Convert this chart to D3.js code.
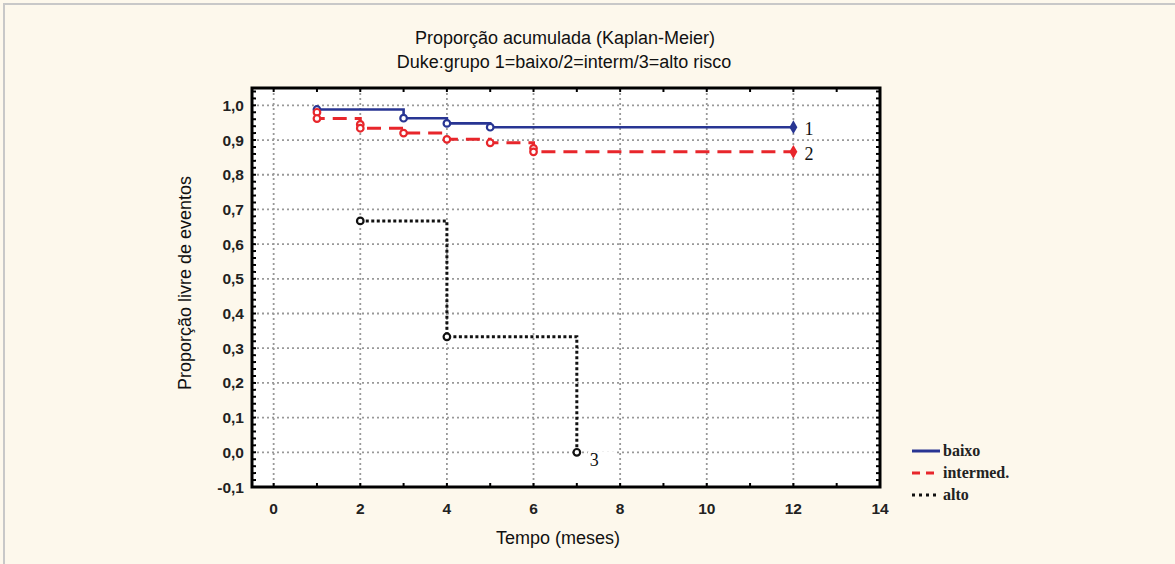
<!DOCTYPE html>
<html>
<head>
<meta charset="utf-8">
<script src="https://cdn.jsdelivr.net/npm/d3@7"></script>
<style>
  html, body { margin: 0; padding: 0; background: #fdf8ec; }
  svg { display: block; }
</style>
</head>
<body>
<script>
// Kaplan-Meier curves
const grupos = ['1', '2', '3'];
const legenda = ['baixo', 'intermed.', 'alto'];
const tempo1 = [1, 3, 4, 5, 12];
const prop1 = [0.988, 0.963, 0.948, 0.937, 0.937];
const tempo2 = [1, 1, 2, 2, 3, 4, 5, 6, 6, 12];
const prop2 = [0.98, 0.962, 0.945, 0.934, 0.92, 0.902, 0.892, 0.876, 0.866, 0.866];
const tempo3 = [2, 4, 7];
const prop3 = [0.667, 0.333, 0.0];
const xTicks = [0, 2, 4, 6, 8, 10, 12, 14];
const yTicks = [-0.1, 0, 0.1, 0.2, 0.3, 0.4, 0.5, 0.6, 0.7, 0.8, 0.9, 1.0];

const W = 1175, H = 564;
const svg = d3.select('body').append('svg').attr('width', W).attr('height', H);

// outer panel
svg.append('rect').attr('x', 4).attr('y', 4).attr('width', W).attr('height', H)
  .attr('fill', '#fdf8ec').attr('stroke', '#c8c8c8').attr('stroke-width', 2);

const L = 252, R = 880, T = 88, B = 487;
const x = d3.scaleLinear().domain([-0.5, 14]).range([L, R]);
const y = d3.scaleLinear().domain([-0.1, 1.05]).range([B, T]);

svg.append('rect').attr('x', L).attr('y', T).attr('width', R - L).attr('height', B - T)
  .attr('fill', '#fff');

// grid
const grid = svg.append('g').attr('stroke', '#999').attr('stroke-width', 1.8)
  .attr('stroke-dasharray', '2,3');
grid.selectAll('.gy').data(yTicks.filter(d => d > -0.1)).enter().append('line')
  .attr('x1', L).attr('x2', R).attr('y1', d => y(d)).attr('y2', d => y(d));
grid.selectAll('.gx').data(xTicks.filter(d => d < 14)).enter().append('line')
  .attr('y1', T).attr('y2', B).attr('x1', d => x(d)).attr('x2', d => x(d));

// series
const series = [
  { t: tempo1, p: prop1, color: '#283593', dash: null, w: 2.6 },
  { t: tempo2, p: prop2, color: '#e8262b', dash: '14,8', w: 3 },
  { t: tempo3, p: prop3, color: '#111', dash: '3,2.5', w: 3 }
];
const line = d3.line().x(d => x(d[0])).y(d => y(d[1])).curve(d3.curveStepAfter);

series.forEach((s, i) => {
  const pts = s.t.map((t, j) => [t, s.p[j]]);
  svg.append('path').datum(pts).attr('d', line)
    .attr('fill', 'none').attr('stroke', s.color).attr('stroke-width', s.w)
    .attr('stroke-dasharray', s.dash);
  const open = i === 2 ? pts : pts.slice(0, -1);
  svg.append('g').selectAll('circle').data(open).enter().append('circle')
    .attr('cx', d => x(d[0])).attr('cy', d => y(d[1])).attr('r', 3.3)
    .attr('fill', '#fff').attr('stroke', s.color).attr('stroke-width', 2.2);
  const last = pts[pts.length - 1];
  if (i < 2) {
    svg.append('path').attr('d', d3.symbol(d3.symbolDiamond, 55)())
      .attr('transform', `translate(${x(last[0])},${y(last[1])})`)
      .attr('fill', s.color);
  }
  const lx = x(last[0]) + (i === 2 ? 13 : 11);
  const ly = y(last[1]) + (i === 2 ? 14 : 8);
  svg.append('rect').attr('x', lx - 2).attr('y', ly - 15).attr('width', i === 2 ? 28 : 14)
    .attr('height', i === 2 ? 22 : 16).attr('fill', '#fff');
  svg.append('text').attr('x', lx).attr('y', ly).text(grupos[i])
    .attr('font-family', 'Liberation Serif').attr('font-size', 18).attr('fill', '#111');
});

// frame and ticks
svg.append('rect').attr('x', L).attr('y', T).attr('width', R - L).attr('height', B - T)
  .attr('fill', 'none').attr('stroke', '#000').attr('stroke-width', 3);

const tk = svg.append('g').attr('stroke', '#000').attr('stroke-width', 2);
const xMinor = d3.range(0, 14, 1);
tk.selectAll('.tb').data(xMinor).enter().append('line')
  .attr('x1', d => x(d)).attr('x2', d => x(d)).attr('y1', B).attr('y2', B - 4);
tk.selectAll('.tt').data(xMinor).enter().append('line')
  .attr('x1', d => x(d)).attr('x2', d => x(d)).attr('y1', T).attr('y2', T + 4);
const yMinor = d3.range(-0.08, 1.05, 0.02);
tk.selectAll('.tl').data(yMinor).enter().append('line')
  .attr('x1', L).attr('x2', L + 4).attr('y1', d => y(d)).attr('y2', d => y(d));
tk.selectAll('.tr').data(yMinor).enter().append('line')
  .attr('x1', R).attr('x2', R - 4).attr('y1', d => y(d)).attr('y2', d => y(d));

const fmt = d => d3.format('.1f')(d).replace('.', ',').replace('−', '-');
const lab = svg.append('g').attr('font-family', 'Liberation Sans, Arial')
  .attr('font-size', 15.5).attr('font-weight', 'bold').attr('fill', '#222');
lab.selectAll('.yl').data(yTicks).enter().append('text')
  .attr('x', L - 8).attr('y', d => y(d) + 5.5).attr('text-anchor', 'end').text(fmt);
lab.selectAll('.xl').data(xTicks).enter().append('text')
  .attr('x', d => x(d)).attr('y', B + 27).attr('text-anchor', 'middle').text(d => d);

// titles
const tt = svg.append('g').attr('font-family', 'Liberation Sans, Arial')
  .attr('fill', '#111').attr('text-anchor', 'middle');
tt.append('text').attr('x', 565).attr('y', 44).attr('font-size', 18)
  .text('Proporção acumulada (Kaplan-Meier)');
tt.append('text').attr('x', 564).attr('y', 68).attr('font-size', 18)
  .text('Duke:grupo 1=baixo/2=interm/3=alto risco');
tt.append('text').attr('x', 558).attr('y', 544).attr('font-size', 18)
  .text('Tempo (meses)');
tt.append('text').attr('transform', 'translate(191,283) rotate(-90)').attr('font-size', 18)
  .text('Proporção livre de eventos');

// legend
const lg = svg.append('g').attr('transform', 'translate(912,451)');
series.forEach((s, i) => {
  lg.append('line').attr('x1', 0).attr('x2', 28).attr('y1', i * 22).attr('y2', i * 22)
    .attr('stroke', s.color).attr('stroke-width', 3)
    .attr('stroke-dasharray', i === 1 ? '8,6' : i === 2 ? '3,4' : null);
  lg.append('text').attr('x', 31).attr('y', i * 22 + 5).text(legenda[i])
    .attr('font-family', 'Liberation Serif').attr('font-size', 16).attr('font-weight', 'bold')
    .attr('fill', '#222');
});
</script>
</body>
</html>
